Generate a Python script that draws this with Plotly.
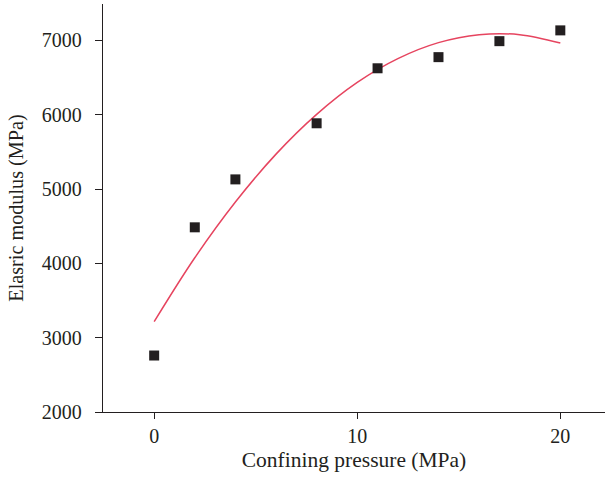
import plotly.graph_objects as go

# Measured data points
pressure = [0, 2, 4, 8, 11, 14, 17, 20]
modulus = [2760, 4485, 5130, 5885, 6625, 6775, 6990, 7135]

# Fitted curve
fit_x = [0, 2, 4, 6, 8, 10, 12, 14, 16, 18, 20]
fit_y = [3215, 4075, 4825, 5470, 6005, 6435, 6755, 6970, 7077, 7077, 6965]

x_ticks = [0, 10, 20]
y_ticks = [2000, 3000, 4000, 5000, 6000, 7000]

ink = "#231f20"
font_family = "Liberation Serif"

fig = go.Figure()
fig.add_trace(go.Scatter(
    x=fit_x, y=fit_y, mode="lines", line=dict(color="#e6445f", width=1.5, shape="spline"),
    hoverinfo="skip", showlegend=False,
))
fig.add_trace(go.Scatter(
    x=pressure, y=modulus, mode="markers",
    marker=dict(symbol="square", size=10, color=ink), showlegend=False,
))

fig.update_layout(
    width=606, height=481,
    margin=dict(l=103, r=1, t=4, b=69),
    paper_bgcolor="white", plot_bgcolor="white",
    font=dict(family=font_family, size=20, color=ink),
    xaxis=dict(
        range=[-2.52, 22.2], tickvals=x_ticks, ticks="outside", ticklen=6, tickwidth=1.3,
        tickcolor=ink, showline=True, linecolor=ink, linewidth=1.3, showgrid=False,
        zeroline=False,
        title=dict(text="Confining pressure (MPa)", standoff=5,
                   font=dict(family=font_family, size=21.5, color=ink)),
        tickfont=dict(family=font_family, size=20, color=ink),
    ),
    yaxis=dict(
        range=[2000, 7490], tickvals=y_ticks, ticks="outside", ticklen=7, tickwidth=1.3,
        tickcolor=ink, showline=True, linecolor=ink, linewidth=1.3, showgrid=False,
        zeroline=False, ticklabelstandoff=9,
        title=dict(text="Elasric modulus (MPa)", standoff=12,
                   font=dict(family=font_family, size=20.2, color=ink)),
        tickfont=dict(family=font_family, size=20, color=ink),
    ),
)

fig.write_html(
    "out.html",
    config={"displayModeBar": False},
    post_script="document.body.style.margin='0';document.body.style.overflow='hidden';",
)
